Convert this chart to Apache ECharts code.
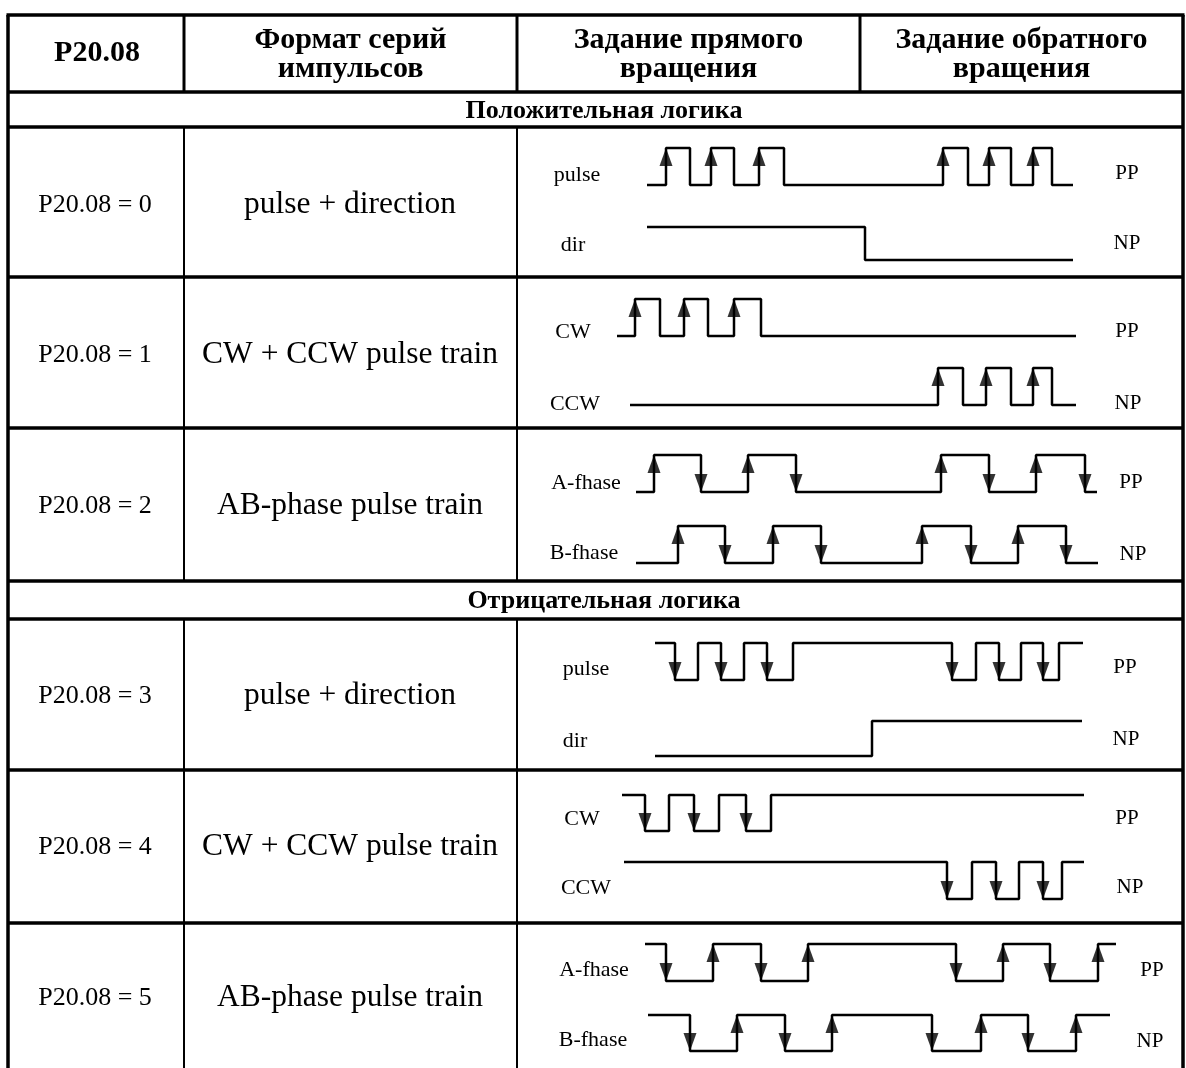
<!DOCTYPE html>
<html><head><meta charset="utf-8">
<script src="https://cdn.jsdelivr.net/npm/echarts/dist/echarts.min.js"></script>
<style>html,body{margin:0;padding:0;background:#fff}#c{width:1186px;height:1068px}</style>
</head><body><div id="c"></div>
<script>
// ================= DATA =================
const headerTitles = [['P20.08'], ['Формат серий', 'импульсов'], ['Задание прямого', 'вращения'], ['Задание обратного', 'вращения']];
const sectionTitles = ['Положительная логика', 'Отрицательная логика'];
const paramValues = ['P20.08 = 0', 'P20.08 = 1', 'P20.08 = 2', 'P20.08 = 3', 'P20.08 = 4', 'P20.08 = 5'];
const formatNames = ['pulse + direction', 'CW + CCW pulse train', 'AB-phase pulse train', 'pulse + direction', 'CW + CCW pulse train', 'AB-phase pulse train'];
const signalNames = ['pulse', 'dir', 'CW', 'CCW', 'A-fhase', 'B-fhase', 'pulse', 'dir', 'CW', 'CCW', 'A-fhase', 'B-fhase'];
const sideTags = ['PP', 'NP'];

// Waveform timing (time units): first = start, last = end, between = level transitions
const posPulseT = [47, 66, 90, 111, 134, 159, 184, 343, 368, 389, 411, 433, 452, 473];
const posDirT   = [47, 265, 473];
const posCwT    = [17, 35, 60, 84, 108, 134, 161, 476];
const posCcwT   = [30, 338, 363, 386, 411, 433, 452, 476];
const posAT     = [36, 54, 101, 148, 196, 341, 389, 436, 485, 497];
const posBT     = [36, 78, 125, 173, 221, 322, 371, 418, 466, 498];
const negPulseT = [55, 75, 98, 121, 144, 167, 193, 352, 376, 399, 421, 443, 459, 483];
const negDirT   = [55, 272, 482];
const negCwT    = [22, 45, 69, 94, 119, 146, 171, 484];
const negCcwT   = [24, 347, 372, 396, 419, 443, 462, 484];
const negAT     = [45, 66, 113, 161, 208, 356, 403, 450, 498, 516];
const negBT     = [48, 90, 137, 185, 232, 332, 381, 428, 476, 510];

const waveTimes  = [posPulseT, posDirT, posCwT, posCcwT, posAT, posBT, negPulseT, negDirT, negCwT, negCcwT, negAT, negBT];
const initLevels = [0, 1, 0, 0, 0, 0, 1, 0, 1, 1, 1, 1];
const arrowModes = ['rise', 'none', 'rise', 'rise', 'both', 'both', 'fall', 'none', 'fall', 'fall', 'both', 'both'];

// ================= LAYOUT =================
const L = {
  left: 8, right: 1183, top: 15, bottom: 1068,
  col1: 184, col2: 517, col3: 860,
  headBottom: 92,
  hLines: [127, 277, 428, 581, 619, 770, 923],
  sectionY: [111, 601],
  rowY: [205, 355, 506, 696, 847, 998],
  waveLeft: 600, waveWidth: 560, timeMax: 560,
  waveHigh: [148, 227, 299, 368, 455, 526, 643, 721, 795, 862, 944, 1015],
  waveLow:  [185, 260, 336, 405, 492, 563, 680, 756, 831, 899, 981, 1051],
  labelX:   [577, 573, 573, 575, 586, 584, 586, 575, 582, 586, 594, 593],
  labelY:   [175, 245, 332, 404, 483, 553, 669, 741, 819, 888, 970, 1040],
  tagX:     [1127, 1127, 1127, 1128, 1131, 1133, 1125, 1126, 1127, 1130, 1152, 1150],
  tagY:     [173, 243, 331, 403, 482, 554, 667, 739, 818, 887, 970, 1041]
};
const SERIF = '"Liberation Serif", "Times New Roman", serif';

// ================= BUILD =================
const graphic = [];
function line(x1, y1, x2, y2, w) {
  graphic.push({ type: 'line', silent: true, shape: { x1, y1, x2, y2 }, style: { stroke: '#000', lineWidth: w } });
}
function text(str, x, y, font) {
  graphic.push({ type: 'text', silent: true, x, y, style: { text: str, font, fill: '#000', align: 'center', verticalAlign: 'middle', textAlign: 'center', textVerticalAlign: 'middle' } });
}
line(L.left - 1.5, L.top, L.right + 1.5, L.top, 3.5);
line(L.left, L.top, L.left, L.bottom, 3.5);
line(L.right, L.top, L.right, L.bottom, 3.5);
line(L.left, L.headBottom, L.right, L.headBottom, 3.5);
L.hLines.forEach(y => line(L.left, y, L.right, y, 3.5));
line(L.col1, L.top, L.col1, L.headBottom, 3);
line(L.col2, L.top, L.col2, L.headBottom, 3);
line(L.col3, L.top, L.col3, L.headBottom, 3);
const bodySpans = [[L.hLines[0], L.hLines[3]], [L.hLines[4], L.bottom]];
bodySpans.forEach(([a, b]) => { line(L.col1, a, L.col1, b, 2); line(L.col2, a, L.col2, b, 2); });

const headCx = [(L.left + L.col1) / 2 + 1, (L.col1 + L.col2) / 2, (L.col2 + L.col3) / 2, (L.col3 + L.right) / 2];
const headFont = 'bold 30px ' + SERIF;
headerTitles.forEach((lines, i) => {
  if (lines.length === 1) text(lines[0], headCx[i], 53, headFont);
  else { text(lines[0], headCx[i], 40, headFont); text(lines[1], headCx[i], 69, headFont); }
});
sectionTitles.forEach((s, i) => text(s, 604, L.sectionY[i], 'bold 26px ' + SERIF));
paramValues.forEach((s, i) => text(s, 95, L.rowY[i], '26px ' + SERIF));
formatNames.forEach((s, i) => text(s, 350, L.rowY[i], '31.5px ' + SERIF));
signalNames.forEach((s, i) => {
  text(s, L.labelX[i], L.labelY[i], '22px ' + SERIF);
  text(sideTags[i % 2], L.tagX[i], L.tagY[i], '21px ' + SERIF);
});

const grids = [], xAxes = [], yAxes = [], series = [];
waveTimes.forEach((times, i) => {
  grids.push({ left: L.waveLeft, top: L.waveHigh[i], width: L.waveWidth, height: L.waveLow[i] - L.waveHigh[i], containLabel: false });
  xAxes.push({ type: 'value', gridIndex: i, min: 0, max: L.timeMax, show: false });
  yAxes.push({ type: 'value', gridIndex: i, min: 0, max: 1, show: false });
  let lvl = initLevels[i];
  const pts = [[times[0], lvl]];
  const ups = [], downs = [];
  for (let k = 1; k < times.length - 1; k++) {
    lvl = 1 - lvl;
    pts.push([times[k], lvl]);
    if (lvl === 1 && (arrowModes[i] === 'rise' || arrowModes[i] === 'both')) ups.push([times[k], 1]);
    if (lvl === 0 && (arrowModes[i] === 'fall' || arrowModes[i] === 'both')) downs.push([times[k], 0]);
  }
  pts.push([times[times.length - 1], lvl]);
  series.push({ type: 'line', xAxisIndex: i, yAxisIndex: i, data: pts, step: 'end', showSymbol: false, symbol: 'none', clip: false, silent: true,
    lineStyle: { color: '#000', width: 2.5 }, z: 3 });
  series.push({ type: 'scatter', xAxisIndex: i, yAxisIndex: i, data: ups, symbol: 'triangle', symbolSize: [13, 18], symbolOffset: [0, 9], clip: false, silent: true,
    itemStyle: { color: '#000' }, z: 4 });
  series.push({ type: 'scatter', xAxisIndex: i, yAxisIndex: i, data: downs, symbol: 'triangle', symbolSize: [13, 18], symbolRotate: 180, symbolOffset: [0, -9], clip: false, silent: true,
    itemStyle: { color: '#000' }, z: 4 });
});

const chart = echarts.init(document.getElementById('c'), null, { renderer: 'canvas' });
chart.setOption({
  animation: false,
  backgroundColor: '#fff',
  grid: grids, xAxis: xAxes, yAxis: yAxes, series, graphic
});
</script></body></html>
